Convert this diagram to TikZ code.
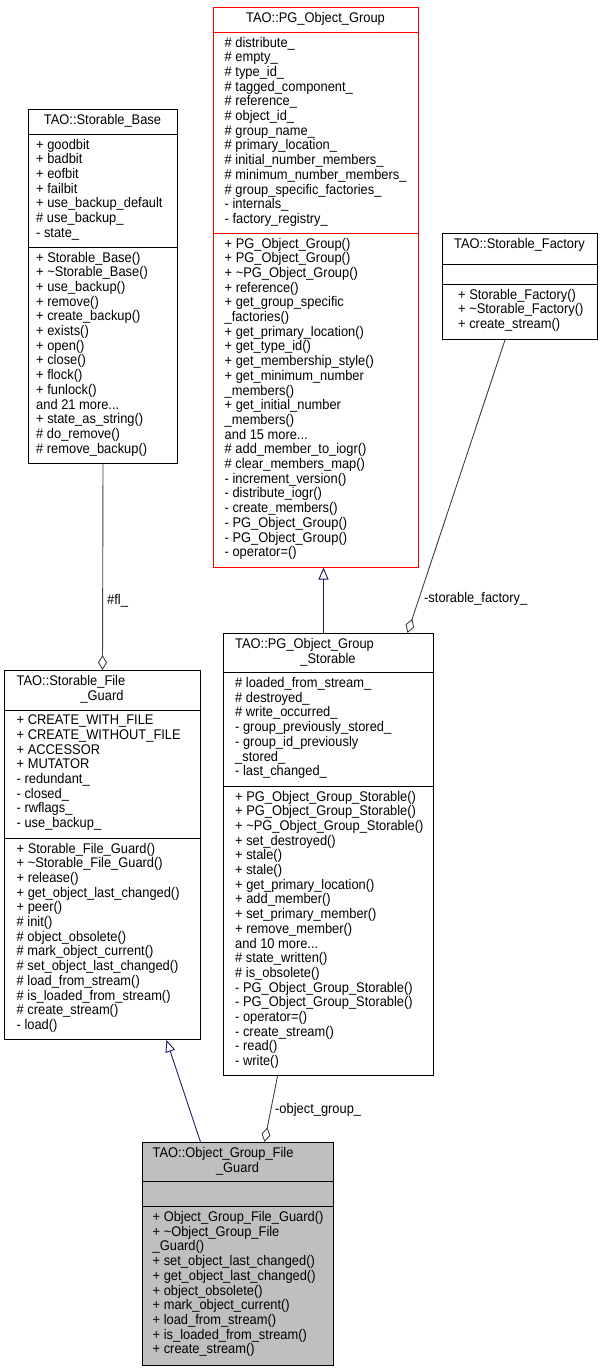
\documentclass[tikz,border=0pt]{standalone}
\usepackage{fontspec}
\setmainfont{Liberation Sans}[FakeStretch=0.92]
\usetikzlibrary{arrows.meta}
\usepackage{xcolor}
\definecolor{edgegray}{HTML}{404040}
\definecolor{inhblue}{HTML}{191970}
\definecolor{boxgray}{HTML}{BFBFBF}
\newcommand\classfont{\fontsize{14}{14.7}\selectfont\lineskiplimit=-20pt\relax}
\newcommand\classstrut{\rule{0pt}{10.8pt}}

\begin{document}
\begin{tikzpicture}[x=1pt, y=-1pt,
	classbox/.style={draw, line width=1pt, inner sep=0, anchor=north west, fill=white},
	members/.style={anchor=north west, align=left, inner xsep=0, inner ysep=4.7pt, font=\classfont, execute at begin node=\classstrut},
	title/.style={anchor=base, inner sep=0, font=\classfont},
	titleleft/.style={title, anchor=base west},
	sepline/.style={line width=1pt},
	aggr/.style={edgegray, line width=0.9pt, -{Diamond[open, length=15pt, width=9pt]}},
	inherit/.style={inhblue, line width=0.9pt, -{Triangle[open, length=12pt, width=10pt]}},
	edgelabel/.style={anchor=base west, inner sep=0, font=\classfont}]
	\fill[white] (0,0) rectangle (603,1371);
	\useasboundingbox (0,0) rectangle (603,1371);

	% TAO::Storable_Base
	\node[classbox, minimum width=149pt, minimum height=354pt] (base) at (28,109) {};
	\draw[sepline] (28,134) -- ++(149,0);
	\draw[sepline] (28,247) -- ++(149,0);
	\node[title] (base-title) at (102.5,124.5) {TAO::Storable\_Base};
	\node[members] (base-attr) at (36,134) {+ goodbit\\+ badbit\\+ eofbit\\+ failbit\\+ use\_backup\_default\\\# use\_backup\_\\- state\_};
	\node[members] (base-ops) at (36,247) {+ Storable\_Base()\\+ \textasciitilde Storable\_Base()\\+ use\_backup()\\+ remove()\\+ create\_backup()\\+ exists()\\+ open()\\+ close()\\+ flock()\\+ funlock()\\and 21 more...\\+ state\_as\_string()\\\# do\_remove()\\\# remove\_backup()};

	% TAO::PG_Object_Group
	\node[classbox, draw=red, minimum width=205pt, minimum height=559.5pt] (pgog) at (213,7) {};
	\draw[sepline, red] (213,32) -- ++(205,0);
	\draw[sepline, red] (213,233) -- ++(205,0);
	\node[title] (pgog-title) at (315.5,22.5) {TAO::PG\_Object\_Group};
	\node[members] (pgog-attr) at (224.5,32) {\# distribute\_\\\# empty\_\\\# type\_id\_\\\# tagged\_component\_\\\# reference\_\\\# object\_id\_\\\# group\_name\_\\\# primary\_location\_\\\# initial\_number\_members\_\\\# minimum\_number\_members\_\\\# group\_specific\_factories\_\\- internals\_\\- factory\_registry\_};
	\node[members] (pgog-ops) at (224.5,233) {+ PG\_Object\_Group()\\+ PG\_Object\_Group()\\+ \textasciitilde PG\_Object\_Group()\\+ reference()\\+ get\_group\_specific\\\_factories()\\+ get\_primary\_location()\\+ get\_type\_id()\\+ get\_membership\_style()\\+ get\_minimum\_number\\\_members()\\+ get\_initial\_number\\\_members()\\and 15 more...\\\# add\_member\_to\_iogr()\\\# clear\_members\_map()\\- increment\_version()\\- distribute\_iogr()\\- create\_members()\\- PG\_Object\_Group()\\- PG\_Object\_Group()\\- operator=()};

	% TAO::Storable_Factory
	\node[classbox, minimum width=155pt, minimum height=106pt] (factory) at (442,233) {};
	\draw[sepline] (442,264) -- ++(155,0);
	\draw[sepline] (442,284) -- ++(155,0);
	\node[title] (factory-title) at (519.5,248.5) {TAO::Storable\_Factory};
	\node[members] (factory-ops) at (458,284) {+ Storable\_Factory()\\+ \textasciitilde Storable\_Factory()\\+ create\_stream()};

	% TAO::Storable_File_Guard
	\node[classbox, minimum width=196pt, minimum height=369pt] (sfg) at (4,670) {};
	\draw[sepline] (4,710) -- ++(196,0);
	\draw[sepline] (4,838) -- ++(196,0);
	\node[titleleft] (sfg-title) at (16.5,685.5) {TAO::Storable\_File};
	\node[title] (sfg-title2) at (102,700.2) {\_Guard};
	\node[members] (sfg-attr) at (16.5,710) {+ CREATE\_WITH\_FILE\\+ CREATE\_WITHOUT\_FILE\\+ ACCESSOR\\+ MUTATOR\\- redundant\_\\- closed\_\\- rwflags\_\\- use\_backup\_};
	\node[members] (sfg-ops) at (16.5,838) {+ Storable\_File\_Guard()\\+ \textasciitilde Storable\_File\_Guard()\\+ release()\\+ get\_object\_last\_changed()\\+ peer()\\\# init()\\\# object\_obsolete()\\\# mark\_object\_current()\\\# set\_object\_last\_changed()\\\# load\_from\_stream()\\\# is\_loaded\_from\_stream()\\\# create\_stream()\\- load()};

	% TAO::PG_Object_Group_Storable
	\node[classbox, minimum width=210pt, minimum height=442pt] (pgos) at (223,633) {};
	\draw[sepline] (223,672.5) -- ++(210,0);
	\draw[sepline] (223,786) -- ++(210,0);
	\node[titleleft] (pgos-title) at (235,648.5) {TAO::PG\_Object\_Group};
	\node[title] (pgos-title2) at (328,663.2) {\_Storable};
	\node[members] (pgos-attr) at (235,672.5) {\# loaded\_from\_stream\_\\\# destroyed\_\\\# write\_occurred\_\\- group\_previously\_stored\_\\- group\_id\_previously\\\_stored\_\\- last\_changed\_};
	\node[members] (pgos-ops) at (235,786) {+ PG\_Object\_Group\_Storable()\\+ PG\_Object\_Group\_Storable()\\+ \textasciitilde PG\_Object\_Group\_Storable()\\+ set\_destroyed()\\+ stale()\\+ stale()\\+ get\_primary\_location()\\+ add\_member()\\+ set\_primary\_member()\\+ remove\_member()\\and 10 more...\\\# state\_written()\\\# is\_obsolete()\\- PG\_Object\_Group\_Storable()\\- PG\_Object\_Group\_Storable()\\- operator=()\\- create\_stream()\\- read()\\- write()};

	% TAO::Object_Group_File_Guard
	\node[classbox, fill=boxgray, minimum width=191pt, minimum height=223pt] (ogfg) at (142,1142) {};
	\draw[sepline] (142,1181.5) -- ++(191,0);
	\draw[sepline] (142,1206.5) -- ++(191,0);
	\node[titleleft] (ogfg-title) at (152.5,1157.5) {TAO::Object\_Group\_File};
	\node[title] (ogfg-title2) at (237.5,1172.2) {\_Guard};
	\node[members] (ogfg-ops) at (152.5,1206.5) {+ Object\_Group\_File\_Guard()\\+ \textasciitilde Object\_Group\_File\\\_Guard()\\+ set\_object\_last\_changed()\\+ get\_object\_last\_changed()\\+ object\_obsolete()\\+ mark\_object\_current()\\+ load\_from\_stream()\\+ is\_loaded\_from\_stream()\\+ create\_stream()};

	% relations
	\draw[aggr] (base.south) -- (sfg.north);
	\node[edgelabel] (fl) at (107,604) {\#fl\_};
	\draw[inherit] ([xshift=-5pt]pgos.north) -- ([xshift=7.5pt]pgog.south);
	\draw[aggr] ([xshift=-15pt]factory.south) -- ([xshift=79pt]pgos.north);
	\node[edgelabel] (sf) at (424,602.5) {-storable\_factory\_};
	\draw[inherit] ([xshift=-37.5pt]ogfg.north) -- ([xshift=64pt]sfg.south);
	\draw[aggr] ([xshift=-51pt]pgos.south) -- ([xshift=26.5pt]ogfg.north);
	\node[edgelabel] (og) at (275,1113) {-object\_group\_};
\end{tikzpicture}
\end{document}
